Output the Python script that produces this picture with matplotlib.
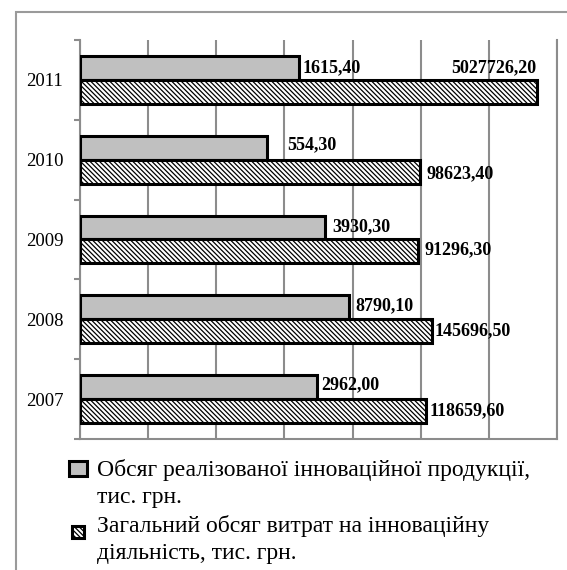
import numpy as np
import matplotlib
matplotlib.use("Agg")
import matplotlib.pyplot as plt
from matplotlib.patches import Rectangle

# Data
years = ["2007", "2008", "2009", "2010", "2011"]
sales = [2962.00, 8790.10, 3930.30, 554.30, 1615.40]
costs = [118659.60, 145696.50, 91296.30, 98623.40, 5027726.20]
sales_labels = ["2962,00", "8790,10", "3930,30", "554,30", "1615,40"]
costs_labels = ["118659,60", "145696,50", "91296,30", "98623,40", "5027726,20"]
legend_labels = ["Обсяг реалізованої інноваційної продукції,\nтис. грн.",
                 "Загальний обсяг витрат на інноваційну\nдіяльність, тис. грн."]

# label offsets in pixels (dx, dy) - hand placed in the original
sales_off = [(5, 2), (7, 2), (7, 1), (20, 3), (4, 0)]
costs_off = [(4, 0), (3, 1), (6, 2), (6, -2), (0, 24)]

W, H = 567, 570
plt.rcParams["font.family"] = ["Liberation Serif", "DejaVu Serif"]
plt.rcParams["hatch.linewidth"] = 0.9

fig = plt.figure(figsize=(W / 100, H / 100), dpi=100)


def fx(x):
    return x / W


def fy(y):
    return 1 - y / H


# outer gray frame (only left and top edges visible)
fig.add_artist(Rectangle((fx(15.7), fy(700)), 2, fy(11.7) - fy(700),
                         transform=fig.transFigure, fill=False,
                         edgecolor="#9a9a9a", linewidth=1.5))

ax = fig.add_axes([fx(80), fy(439), (557 - 80) / W, (439 - 40) / H])

grid_c = "#8c8c8c"
y = np.arange(len(years))
h = 0.3

ax.barh(y + h / 2, sales, height=h, left=1, color="#c0c0c0",
        edgecolor="black", linewidth=2.2, zorder=3)
ax.barh(y - h / 2, costs, height=h, left=1, color="white",
        edgecolor="black", linewidth=2.2, hatch="\\" * 7, zorder=3)

ax.set_xscale("log")
ax.set_xlim(1, 1e7)
ax.set_ylim(-0.5, len(years) - 0.5)

ax.xaxis.grid(True, which="major", color=grid_c, linewidth=1.5, zorder=0)
ax.tick_params(axis="x", which="both", length=0, labelbottom=False)
ax.xaxis.set_minor_locator(matplotlib.ticker.NullLocator())

ax.set_yticks(y)
ax.set_yticklabels(years, fontsize=13.5)
ax.tick_params(axis="y", which="major", length=0, pad=12)
ax.set_yticks(np.arange(-0.5, len(years)), minor=True)
ax.tick_params(axis="y", which="minor", length=4, width=1.5, color=grid_c)

for s in ["top"]:
    ax.spines[s].set_visible(False)
for s in ["left", "bottom", "right"]:
    ax.spines[s].set_color(grid_c)
    ax.spines[s].set_linewidth(1.5)

for i in range(len(years)):
    dx, dy = sales_off[i]
    ax.annotate(sales_labels[i], (sales[i], y[i] + h / 2), xytext=(dx, dy),
                textcoords="offset pixels", ha="left", va="center",
                fontsize=13, fontweight="bold", zorder=5)
    dx, dy = costs_off[i]
    ha = "right" if costs[i] > 1e6 else "left"
    ax.annotate(costs_labels[i], (costs[i], y[i] - h / 2), xytext=(dx, dy),
                textcoords="offset pixels", ha=ha, va="center",
                fontsize=13, fontweight="bold", zorder=5, annotation_clip=False)

# legend drawn by hand so the marker sits on the first text line
fig.add_artist(Rectangle((fx(69), fy(476)), (87 - 69) / W, (476 - 461) / H,
                         transform=fig.transFigure, facecolor="#c0c0c0",
                         edgecolor="black", linewidth=2.2))
fig.add_artist(Rectangle((fx(72), fy(538)), (84 - 72) / W, (538 - 526) / H,
                         transform=fig.transFigure, facecolor="white",
                         edgecolor="black", linewidth=2.2, hatch="\\" * 7))

line_y = [[470, 498], [526, 554]]
for lab, ys in zip(legend_labels, line_y):
    for line, yy in zip(lab.split("\n"), ys):
        fig.text(fx(97), fy(yy), line, fontsize=17, ha="left", va="center")

fig.savefig("out.png", dpi=100)
